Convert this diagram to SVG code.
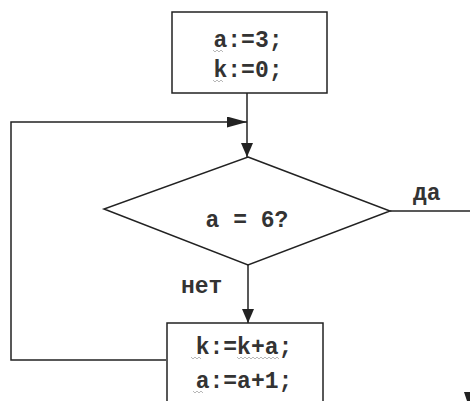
<svg xmlns="http://www.w3.org/2000/svg" width="470" height="401" viewBox="0 0 470 401">
<defs>
<marker id="arrL" viewBox="0 0 10 10" refX="10" refY="5" markerWidth="20" markerHeight="11" markerUnits="userSpaceOnUse" orient="auto" preserveAspectRatio="none">
<path d="M0,0 L10,5 L0,10 z" fill="#222"/>
</marker>
<marker id="arrD" viewBox="0 0 10 10" refX="10" refY="5" markerWidth="14" markerHeight="12" markerUnits="userSpaceOnUse" orient="auto" preserveAspectRatio="none">
<path d="M0,0 L10,5 L0,10 z" fill="#222"/>
</marker>
</defs>
<style>
.box{fill:#fff;stroke:#222;stroke-width:1.5}
.ln{fill:none;stroke:#222;stroke-width:1.5}
.t{font-family:"Liberation Mono","Courier New",monospace;font-size:23px;font-weight:bold;fill:#333}
.sq{fill:none;stroke:#999;stroke-width:0.7}
</style>
<rect width="470" height="401" fill="#fff"/>
<g id="connectors">
<line class="ln" x1="247" y1="93" x2="247" y2="157" marker-end="url(#arrD)"/>
<polyline class="ln" points="166,360 11,360 11,122 247,122" marker-end="url(#arrL)"/>
<line class="ln" x1="248" y1="265" x2="248" y2="323" marker-end="url(#arrD)"/>
<line class="ln" x1="390" y1="211" x2="470" y2="211"/>
<path d="M464,392 L470,392 L470,401 L467,401 z" fill="#222"/>
<text class="t" x="413" y="200">да</text>
<text class="t" x="181" y="293">нет</text>
</g>
<g id="init">
<rect class="box" x="172" y="12" width="155" height="81"/>
<text class="t" x="248" y="47" text-anchor="middle">a:=3;</text>
<text class="t" x="248" y="77" text-anchor="middle">k:=0;</text>
<path class="sq" d="M213,50 l2,2 l2,-2 l2,2 l2,-2 l2,2"/>
<path class="sq" d="M213,80 l2,2 l2,-2 l2,2 l2,-2 l2,2"/>
</g>
<g id="cond">
<polygon class="box" points="248,157 390,211 248,265 104,209"/>
<text class="t" x="247" y="227" text-anchor="middle">a = 6?</text>
</g>
<g id="body">
<rect class="box" x="167" y="323" width="156" height="90"/>
<text class="t" x="244" y="354" text-anchor="middle">k:=k+a;</text>
<text class="t" x="244" y="388" text-anchor="middle">a:=a+1;</text>
<path class="sq" d="M191,357 l2,2 l2,-2 l2,2 l2,-2 l2,2"/>
<path class="sq" d="M237,357 l2,2 l2,-2 l2,2 l2,-2 l2,2 l2,-2 l2,2 l2,-2 l2,2 l2,-2 l2,2 l2,-2 l2,2 l2,-2 l2,2 l2,-2 l2,2 l2,-2 l2,2 l2,-2 l2,2"/>
<path class="sq" d="M193,391 l2,2 l2,-2 l2,2 l2,-2 l2,2"/>
</g>
</svg>
